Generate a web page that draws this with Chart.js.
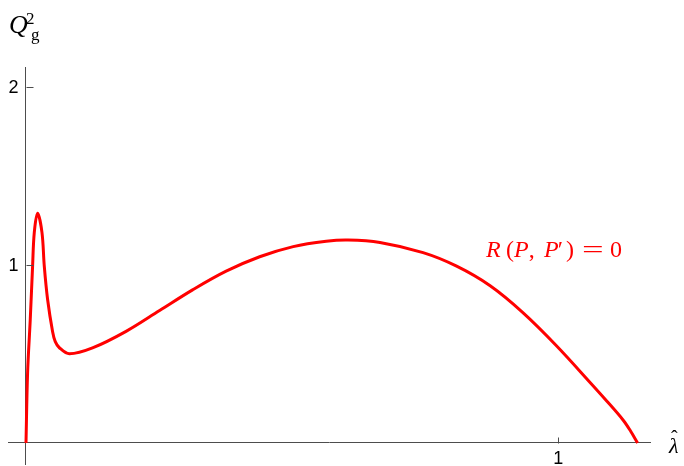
<!DOCTYPE html>
<html>
<head>
<meta charset="utf-8">
<script src="https://cdn.jsdelivr.net/npm/chart.js@4.4.1/dist/chart.umd.min.js"></script>
<style>
  html, body { margin: 0; padding: 0; background: #fff; }
  #wrap { width: 684px; height: 466px; }
</style>
</head>
<body>
<div id="wrap"><canvas id="myChart" width="684" height="466"></canvas></div>
<script>
  // curve R(P, P') = 0
  let lambdaHat = [0, 0.003, 0.008, 0.0124, 0.0156, 0.0218, 0.030, 0.0344, 0.0406, 0.050, 0.055, 0.0627, 0.0815,
    0.125, 0.188, 0.251, 0.313, 0.376, 0.439, 0.502, 0.564, 0.605, 0.665, 0.746, 0.809, 0.872,
    0.934, 0.997, 1.061, 1.091, 1.122, 1.136, 1.149];
  let qg2 = [0, 0.394, 0.693, 0.993, 1.183, 1.290, 1.183, 0.992, 0.806, 0.625, 0.569, 0.535, 0.501,
    0.534, 0.627, 0.744, 0.860, 0.965, 1.046, 1.103, 1.133, 1.140, 1.126, 1.069, 0.993, 0.883,
    0.731, 0.545, 0.336, 0.236, 0.128, 0.066, 0];
  let xTicks = [1];
  let yTicks = [1, 2];

  let points = lambdaHat.map((x, i) => ({ x: x, y: qg2[i] }));

  let axisColor = '#4d4d4d';
  let serif = '"Liberation Serif", "Times New Roman", serif';

  // small inward tick marks plus the math labels
  let extras = {
    id: 'extras',
    afterDraw(chart) {
      let ctx = chart.ctx;
      let xs = chart.scales.x, ys = chart.scales.y;
      let x0 = Math.round(xs.getPixelForValue(0)) + 0.5;
      let y0 = Math.round(ys.getPixelForValue(0)) + 0.5;
      ctx.save();
      ctx.strokeStyle = axisColor;
      ctx.lineWidth = 1;
      ctx.beginPath();
      xTicks.forEach(v => {
        let px = Math.round(xs.getPixelForValue(v)) + 0.5;
        ctx.moveTo(px, y0); ctx.lineTo(px, y0 - 6);
      });
      yTicks.forEach(v => {
        let py = Math.round(ys.getPixelForValue(v)) + 0.5;
        ctx.moveTo(x0, py); ctx.lineTo(x0 + 7, py);
      });
      ctx.stroke();

      // y axis tick labels
      ctx.fillStyle = '#000';
      ctx.font = '18px "Liberation Sans", Arial, sans-serif';
      ctx.textAlign = 'right';
      ctx.textBaseline = 'middle';
      yTicks.forEach(v => {
        ctx.fillText(String(v), x0 - 8, ys.getPixelForValue(v) + 1);
      });

      ctx.textAlign = 'left';
      ctx.textBaseline = 'alphabetic';
      // Q_g^2
      ctx.font = 'italic 26px ' + serif;
      ctx.fillText('Q', 9, 33);
      ctx.font = '17px ' + serif;
      ctx.fillText('2', 26, 24);
      ctx.fillText('g', 31, 40);

      // lambda hat
      ctx.font = 'italic 22px ' + serif;
      ctx.fillText('\u03bb', 669, 453);
      ctx.font = '20px ' + serif;
      ctx.fillText('\u02c6', 671, 445);

      // curve label, laid out piece by piece like the typeset original
      ctx.fillStyle = '#ff0000';
      let base = 257;
      let put = (s, italic, x) => {
        ctx.font = (italic ? 'italic ' : '') + '24px ' + serif;
        ctx.fillText(s, x, base);
        return x + ctx.measureText(s).width;
      };
      put('R', true, 486);
      let x = put('(', false, 506);
      x = put('P', true, x);
      put(',', false, x);
      x = put('P', true, 544);
      put('\u2032', false, x - 1);
      put(')', false, 566);
      put('0', false, 610);
      ctx.font = '24px ' + serif;
      ctx.save();
      ctx.translate(582, base);
      ctx.scale(1.6, 1);
      ctx.fillText('=', 0, 0);
      ctx.restore();
      ctx.restore();
    }
  };

  let myChart = document.getElementById('myChart').getContext('2d');

  let curveChart = new Chart(myChart, {
    type: 'line',
    data: {
      datasets: [{
        label: "R(P, P') = 0",
        data: points,
        borderColor: '#ff0000',
        borderWidth: 3,
        pointRadius: 0,
        fill: false,
        tension: 0.35,
      }]
    },
    options: {
      responsive: false,
      animation: false,
      devicePixelRatio: 1,
      layout: { padding: { left: 8, right: 34, top: 67, bottom: 2 } },
      plugins: {
        legend: { display: false },
        tooltip: { enabled: false },
      },
      scales: {
        x: {
          type: 'linear',
          min: -0.0338,
          max: 1.1723,
          position: { y: 0 },
          afterBuildTicks: (s) => { s.ticks = xTicks.map(v => ({ value: v })); },
          grid: { display: false, drawTicks: false },
          border: { display: true, color: axisColor, width: 1 },
          ticks: {
            padding: 5,
            color: '#000',
            font: { family: '"Liberation Sans", Arial, sans-serif', size: 18 },
          },
        },
        y: {
          type: 'linear',
          min: -0.118,
          max: 2.112,
          position: { x: 0 },
          afterBuildTicks: (s) => { s.ticks = yTicks.map(v => ({ value: v })); },
          grid: { display: false, drawTicks: false },
          border: { display: true, color: axisColor, width: 1 },
          ticks: { display: false },
        },
      },
    },
    plugins: [extras],
  });
</script>
</body>
</html>
